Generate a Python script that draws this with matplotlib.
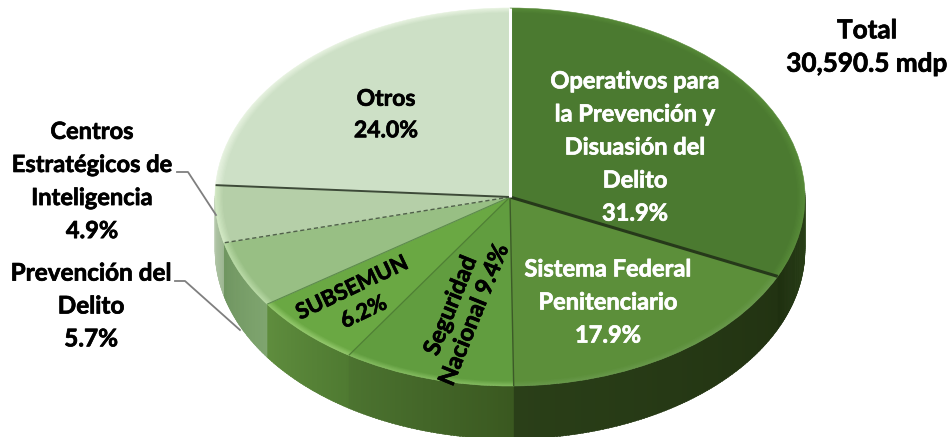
import numpy as np
import matplotlib
matplotlib.use("Agg")
import matplotlib.pyplot as plt
import matplotlib.patheffects as pe
from matplotlib.colors import to_rgb
from matplotlib.patches import Polygon

W, H = 951, 437
CX, CY, RX, RY, DEPTH = 510, 197, 295, 189, 53

categories = ["Operativos para la Prevención y Disuasión del Delito", "Sistema Federal Penitenciario",
              "Seguridad Nacional", "SUBSEMUN", "Prevención del Delito",
              "Centros Estratégicos de Inteligencia", "Otros"]
values = [31.9, 17.9, 9.4, 6.2, 5.7, 4.9, 24.0]
face_colors = ["#4b7a30", "#5c8f3a", "#619d3f", "#6aa843", "#98bf84", "#b5cfa8", "#cde0c6"]
rim_colors = ["#578a38", "#68994a", "#82bb5e", "#92c76b", "#b8d9a5", "#d2e8c4", "#e6f2df"]
side_start = ["#2c4419", "#223312", "#3a5820", "#4f7a31", "#7fa56f", "#9db792", "#cccccc"]
side_end = ["#1f3010", "#2a3f18", "#4c7430", "#5f8d3e", "#6f9560", "#b7c9ad", "#cccccc"]
sep_colors = ["#26391a", "#3c5a28", "#4f7f35", "#5d8a4d", "#50604a", "#3d4a38", "#ffffff"]
sep_widths = [2.2, 1.0, 0.9, 0.8, 1.0, 1.4, 2.2]
sep_styles = ["-", "-", "-", "-", (0, (3, 2)), "-", "-"]

fig = plt.figure(figsize=(W / 100, H / 100), dpi=100)
ax = fig.add_axes([0, 0, 1, 1])

# side wall, drawn strip by strip from the slice angles
fractions = np.array(values) / sum(values)
edges = np.concatenate([[0], np.cumsum(fractions)]) * 2 * np.pi


def ex(t, r=1.0):
    return np.sin(t) * r


def ey(t, r=1.0):
    return np.cos(t) * r


dz = DEPTH / RY
for i in range(len(values)):
    a, b = edges[i], min(edges[i + 1], 1.5 * np.pi)
    a = max(a, 0.5 * np.pi * 0.98)
    if b <= a:
        continue
    n = max(int((b - a) / 0.01), 2)
    grid = np.linspace(a, b, n + 1)
    c0, c1 = np.array(to_rgb(side_start[i])), np.array(to_rgb(side_end[i]))
    for k in range(n):
        t0, t1 = grid[k], grid[k + 1] + 0.006
        ts = np.array([t0, t1])
        xs = np.r_[ex(ts), ex(ts)[::-1]]
        ys = np.r_[ey(ts), ey(ts)[::-1] - dz]
        col = c0 + (c1 - c0) * (k + 0.5) / n
        ax.add_patch(Polygon(np.c_[xs, ys], closed=True, fc=col, ec=col, lw=0.3, zorder=1))

# top face with soft bevel: stacked pies blending rim colour into face colour
layers = 7
for j in range(layers):
    f = j / (layers - 1)
    r = 1.0 - 0.027 * f
    cols = [tuple(np.array(to_rgb(rc)) * (1 - f) + np.array(to_rgb(fc)) * f)
            for rc, fc in zip(rim_colors, face_colors)]
    wedges, _ = ax.pie(values, colors=cols, startangle=90, counterclock=False, radius=r,
                       normalize=True, wedgeprops=dict(linewidth=0.4, edgecolor="none"))
    for w, c in zip(wedges, cols):
        w.set_edgecolor(c)
        w.set_zorder(2 + j)

# slice separators
for i in range(len(values)):
    t = edges[i + 1]
    ax.plot([0, ex(t)], [0, ey(t)], color=sep_colors[i], lw=sep_widths[i], ls=sep_styles[i],
            zorder=20, solid_capstyle="butt")

ax.set_xlim(-CX / RX, (W - CX) / RX)
ax.set_ylim((CY - H) / RY, CY / RY)
ax.set_aspect("auto")
ax.axis("off")

# overlay in image pixels for labels and leaders
ov = fig.add_axes([0, 0, 1, 1], facecolor="none")
ov.set_xlim(0, W)
ov.set_ylim(H, 0)
ov.axis("off")

font = dict(family="Lato", fontweight="bold", ha="center", va="center")


def label(x, y, s, size=17, color="black", **kw):
    t = ov.text(x, y, s, color=color, fontsize=size, **font, **kw)
    t.set_path_effects([pe.withStroke(linewidth=0.5, foreground=color)])


label(867, 47, "Total\n30,590.5 mdp", size=18.8, linespacing=1.47)
label(386, 115, "Otros\n24.0%", size=16.5, linespacing=1.62)
label(635, 147, "Operativos para\nla Prevención y\nDisuasión del\nDelito\n31.9%", color="white", linespacing=1.53)
label(608, 302, "Sistema Federal\nPenitenciario\n17.9%", color="white", linespacing=1.53)
label(92, 181, "Centros\nEstratégicos de\nInteligencia\n4.9%", linespacing=1.53)
label(91, 306, "Prevención del\nDelito\n5.7%", size=17.5, linespacing=1.52)
label(358, 300, "SUBSEMUN\n6.2%", size=15.8, rotation=25.5, rotation_mode="anchor", linespacing=1.35)
label(462, 310, "Seguridad\nNacional 9.4%", rotation=68, rotation_mode="anchor", linespacing=1.12)

leader = dict(color="#7f7f7f", lw=1.3, zorder=30)
ov.plot([177, 188, 216], [172, 172, 215], **leader)
ov.plot([175, 185, 240], [281, 281, 330], **leader)

fig.savefig("out.png", dpi=100, facecolor="white")
